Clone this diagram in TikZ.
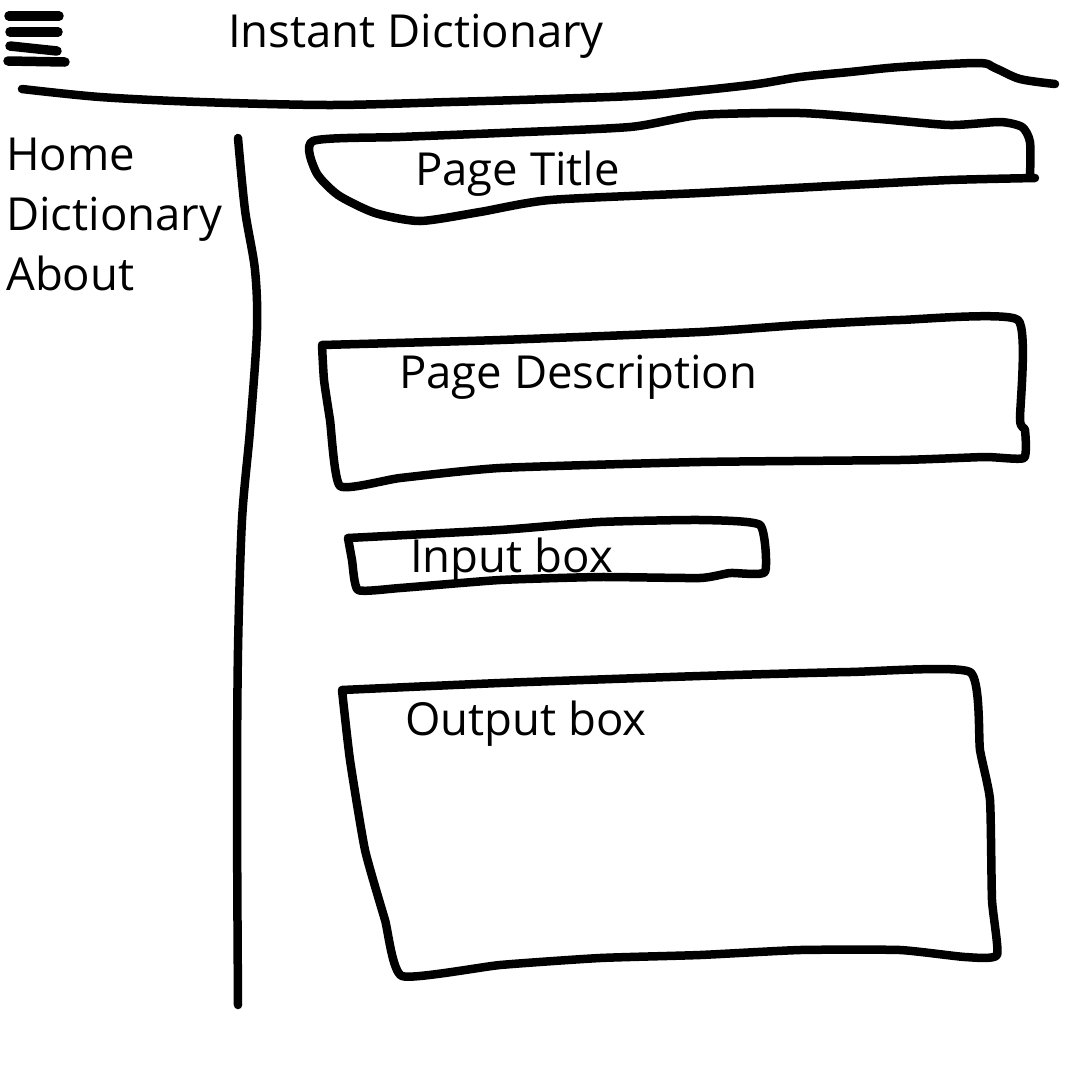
\documentclass[tikz,border=0pt]{standalone}
\usepackage{fontspec}
\setmainfont{Open Sans}
\usetikzlibrary{positioning}

\begin{document}
\begin{tikzpicture}[
                x=1pt, y=-1pt,
                pen style/.style={line width=8.5pt, line cap=round, line join=round, black},
                label style/.style={anchor=base west, inner sep=0pt, font=\fontsize{45.5}{50}\selectfont}
]
    \useasboundingbox[fill=white] (0,0) rectangle (1080,1080);

    % Menu icon
        \draw[pen style, line width=9.5pt] (9,16) -- (59,16);
        \draw[pen style, line width=9.5pt] (10,32) -- (58,32);
        \draw[pen style, line width=9.5pt] (10,46) -- (57,51);
        \draw[pen style, line width=9.5pt] (8,61) -- (65,62);

    % Header line
        \draw[pen style] plot[smooth, tension=0.5] coordinates {(22,89) (100,97) (200,102) (330,105) (450,102) (550,99) (650,95) (750,85) (800,77) (850,72) (900,67) (978,63) (995,68) (1020,79) (1055,84)};

    % Sidebar line
        \draw[pen style] plot[smooth, tension=0.5] coordinates {(238,138) (245,210) (255,270) (257,330) (250,430) (242,520) (238,650) (237,800) (238,1005)};

    % Page title box
        \draw[pen style] plot[smooth, tension=0.4] coordinates {(1035,178) (950,180) (850,185) (700,193) (550,200) (480,212) (420,221) (375,213) (338,195) (316,172) (313,141) (400,137) (500,133) (630,127) (700,115) (800,113) (880,119) (950,125) (1000,122) (1022,127) (1030,142) (1030,178)};

    % Page description box
        \draw[pen style] plot[smooth, tension=0.3] coordinates {(322,345) (500,340) (700,332) (800,325) (900,320) (1018,320) (1020,420) (1025,430) (1024,458) (985,457) (900,460) (700,462) (500,468) (400,478) (340,486) (330,420) (324,380) (322,345)};

    % Input box
        \draw[pen style] plot[smooth, tension=0.3] coordinates {(348,538) (500,530) (600,522) (700,520) (760,525) (765,572) (730,573) (700,578) (600,577) (500,580) (400,588) (358,590) (352,560) (348,538)};

    % Output box
        \draw[pen style] plot[smooth, tension=0.3] coordinates {(342,690) (500,683) (700,676) (850,672) (970,672) (980,750) (990,800) (992,900) (997,955) (965,957) (900,950) (800,950) (700,955) (600,958) (500,965) (402,976) (385,920) (365,850) (350,760) (342,690)};

    % Labels
        \node[label style] (title) at (228,47) {Instant Dictionary};
        \node[label style] (home) at (6,170) {Home};
        \node[label style] (dict) at (6,230) {Dictionary};
        \node[label style] (about) at (6,290) {About};
        \node[label style] (pagetitle) at (415,185) {Page Title};
        \node[label style] (pagedesc) at (399,388) {Page Description};
        \node[label style] (input) at (410,572) {Input box};
        \node[label style] (output) at (405,735) {Output box};
\end{tikzpicture}
\end{document}
